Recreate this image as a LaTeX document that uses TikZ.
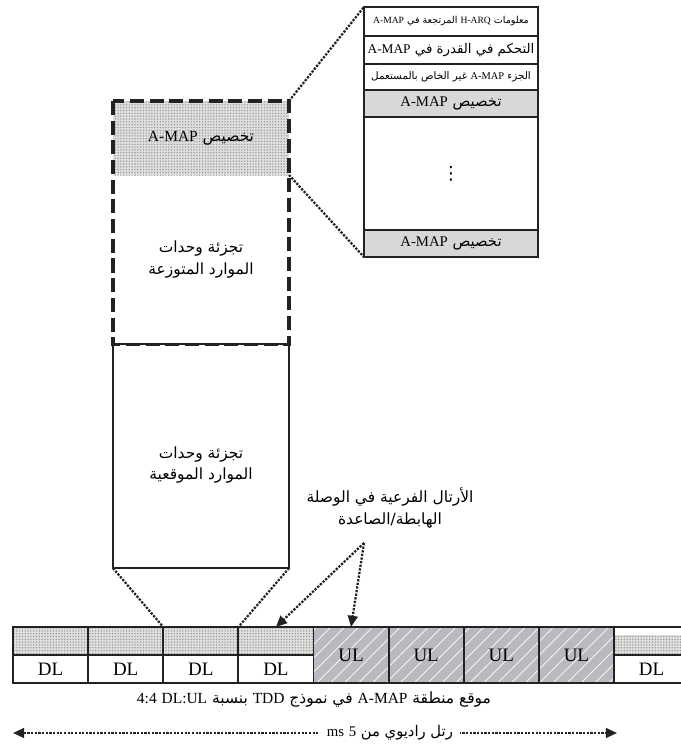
\documentclass[tikz,border=0pt]{standalone}
\usepackage{fontspec}
\setmainfont{Liberation Serif}
\newfontfamily\arabicfont[Script=Arabic]{DejaVu Sans}
\TeXXeTstate=1
\usetikzlibrary{arrows.meta, positioning, patterns.meta}
\newcommand{\lat}[1]{\beginL{\rmfamily #1}\endL}
\newcommand{\ar}[1]{\beginR #1\endR}
\definecolor{ink}{HTML}{222222}
\definecolor{ulgray}{HTML}{B9BAC0}
\definecolor{allocgray}{HTML}{D8D8DA}

\begin{document}
\begin{tikzpicture}[
    x=0.025cm, y=-0.025cm,
    every node/.style={inner sep=0pt, outer sep=0pt},
    amap/.style={preaction={fill=gray!25}, pattern={Dots[distance=2pt, radius=0.55pt]}, pattern color=gray!80},
    row/.style={draw=ink, line width=1pt, minimum width=4.35cm, align=center},
    alloc/.style={row, fill=allocgray, minimum height=0.675cm, font=\arabicfont\fontsize{10.5}{12}\selectfont},
    zone/.style={minimum width=4.4cm, align=center, font=\arabicfont\fontsize{11}{15}\selectfont},
    cell/.style={draw=ink, line width=1.3pt, minimum width=1.878cm, font=\fontsize{13.5}{15}\selectfont},
    dlbox/.style={cell, minimum height=0.7cm},
    ulbox/.style={cell, minimum height=1.4cm, preaction={fill=ulgray}, pattern={Lines[angle=45, distance=7pt, line width=0.5pt]}, pattern color=white},
    link/.style={densely dotted, line width=1.6pt, draw=ink},
    pick/.style={link, -{Triangle[length=8pt, width=7pt]}}
]
    \useasboundingbox (0,0) rectangle (681,749);

    \node[row, minimum height=0.725cm, font=\arabicfont\fontsize{6.8}{8}\selectfont] (harq) at (451,21.5) {\ar{معلومات \lat{H-ARQ} المرتجعة في \lat{A-MAP}}};
    \node[row, minimum height=0.7cm, font=\arabicfont\fontsize{9.5}{11}\selectfont, below=0pt of harq] (power) {\ar{التحكم في القدرة في \lat{A-MAP}}};
    \node[row, minimum height=0.65cm, font=\arabicfont\fontsize{7.4}{9}\selectfont, below=0pt of power] (nonuser) {\ar{الجزء \lat{A-MAP} غير الخاص بالمستعمل}};
    \node[alloc, below=0pt of nonuser] (allocfirst) {\ar{تخصيص \lat{A-MAP}}};
    \node[row, minimum height=2.825cm, below=0pt of allocfirst, font=\arabicfont\fontsize{13}{15}\selectfont] (allocmore) {⋮};
    \node[alloc, below=0pt of allocmore] (alloclast) {\ar{تخصيص \lat{A-MAP}}};
    \draw[ink, line width=1.6pt] (harq.north west) rectangle (alloclast.south east);

    \node[zone, amap, minimum height=1.85cm] (dmap) at (201,138) {\ar{تخصيص \lat{A-MAP}}};
    \node[zone, minimum height=4.225cm, below=0pt of dmap] (distributed) {\ar{تجزئة وحدات}\\\ar{الموارد المتوزعة}};
    \node[zone, draw=ink, line width=1.2pt, minimum height=5.6cm, below=0pt of distributed] (localized) {\mbox{}\\[0.6em]\ar{تجزئة وحدات}\\\ar{الموارد الموقعية}};
    \draw[ink, line width=2.2pt, dash pattern=on 10pt off 4pt] (dmap.north west) rectangle (distributed.south east);

    \foreach \i in {1,...,4} {
        \node[dlbox, amap] (head\i) at ({13+75.125*(\i-0.5)},641) {};
        \node[dlbox, below=0pt of head\i] (dl\i) {DL};
    }
    \foreach \i in {5,...,8}
        \node[ulbox] (ul\i) at ({13+75.125*(\i-0.5)},655) {UL};
    \node[dlbox] (head9) at (651.6,641) {};
    \fill[amap] ([yshift=-0.2cm]head9.north west) rectangle (head9.south east);
    \node[dlbox, below=0pt of head9] (dl9) {DL};
    \draw[ink, line width=1.3pt] (head9.north west) rectangle (dl9.south east);

    \draw[link] (dmap.north east) -- (harq.north west);
    \draw[link] (dmap.south east) -- (alloclast.south west);
    \draw[link] (localized.south west) -- (head3.north west);
    \draw[link] (localized.south east) -- (head3.north east);

    \node[font=\arabicfont\fontsize{11}{15}\selectfont, align=center] (sublabel) at (390,508) {\ar{الأرتال الفرعية في الوصلة}\\\ar{الهابطة/الصاعدة}};
    \coordinate (subfork) at (364,543);
    \draw[pick] (subfork) -- (head4.north);
    \draw[pick] (subfork) -- (ul5.north);

    \node[font=\arabicfont\fontsize{11}{13}\selectfont] (caption) at (314,700) {\ar{موقع منطقة \lat{A-MAP} في نموذج \lat{TDD} بنسبة \lat{DL:UL} \lat{4:4}}};

    \coordinate (fstart) at (13,733);
    \coordinate (fend) at (617,733);
    \draw[link, {Triangle[length=8pt, width=7pt]}-{Triangle[length=8pt, width=7pt]}] (fstart) -- node[pos=0.624, fill=white, inner xsep=5pt, inner ysep=2pt, font=\arabicfont\fontsize{10.5}{12}\selectfont] (framelen) {\ar{رتل راديوي من \lat{5} \lat{ms}}} (fend);
\end{tikzpicture}
\end{document}
